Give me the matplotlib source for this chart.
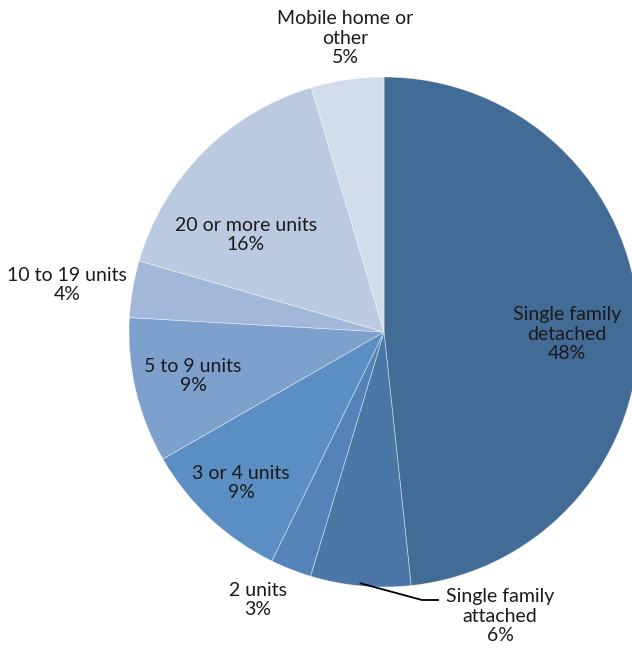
import matplotlib
matplotlib.use('Agg')
import matplotlib.pyplot as plt
import numpy as np

# 数据 (从图中估计的份额, 标签显示四舍五入后的百分比)
categories = ['Single family\ndetached', 'Single family\nattached', '2 units',
              '3 or 4 units', '5 to 9 units', '10 to 19 units',
              '20 or more units', 'Mobile home or\nother']
shares = [48.3, 6.35, 2.6, 9.45, 9.2, 3.6, 15.9, 4.6]
colors = ['#426B95', '#4A77A6', '#5383B7', '#5B8EC2', '#7DA0CD',
          '#A3B7D9', '#BBCAE0', '#D2DCEA']

plt.rcParams['font.family'] = ['Lato', 'DejaVu Sans']

W, H = 632, 648
cx, cy, r = 384, 332, 255

fig = plt.figure(figsize=(W / 100, H / 100), dpi=100)
ax = fig.add_axes([(cx - r) / W, (H - cy - r) / H, 2 * r / W, 2 * r / H])
ax.pie(shares, colors=colors, startangle=90, counterclock=False, radius=1,
       wedgeprops=dict(edgecolor=(1, 1, 1, 0.45), linewidth=0.6))
ax.set_xlim(-1, 1)
ax.set_ylim(-1, 1)
ax.set_aspect('equal')
ax.axis('off')

# 标签位置 (像素中心)
label_px = [(567, 334), (500, 616), (258, 600), (241, 483), (193, 376),
            (67, 285), (246, 235), (345, 38)]
for cat, val, (px, py) in zip(categories, shares, label_px):
    ax.text((px - cx) / r, (cy - py) / r, f'{cat}\n{round(val)}%', ha='center',
            va='center', fontsize=14, color='#1a1a1a',
            linespacing=1.2, clip_on=False)

# 引线 (Single family attached)
start = 90 - shares[0] * 3.6
mid = np.deg2rad(start - shares[1] * 3.6 / 2)
x0, y0 = np.cos(mid) * 0.99, np.sin(mid) * 0.99
ax.plot([x0, (422 - cx) / r, (438 - cx) / r],
        [y0, (cy - 600) / r, (cy - 600) / r], color='black', lw=1.3,
        clip_on=False)

fig.savefig('out.png', dpi=100)
